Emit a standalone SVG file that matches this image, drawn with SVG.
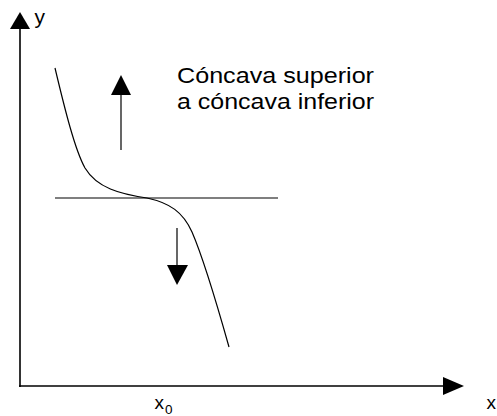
<svg xmlns="http://www.w3.org/2000/svg" width="497" height="416" viewBox="0 0 497 416">
<style>
.ax{stroke:#000;stroke-width:1.6;fill:none}
.ln{stroke:#000;stroke-width:1.2;fill:none}
.hd{fill:#000;stroke:none}
text{font-family:"Liberation Sans",Arial,sans-serif;fill:#000}
</style>
<rect width="497" height="416" fill="#fff"/>
<g id="axes">
<line class="ax" x1="20" y1="387" x2="20" y2="28"/>
<polygon class="hd" points="20,12 10,29 30,29"/>
<line class="ax" x1="19" y1="386" x2="444" y2="386"/>
<polygon class="hd" points="464,386 443,377 443,395"/>
</g>
<g id="curve">
<path class="ln" d="M55,68 C65,110 75,150 85,168 C97,188 120,194 147,198 C170,203 183,212 192,232 C205,262 220,315 229,347"/>
</g>
<g id="tangent">
<line class="ln" x1="55" y1="198" x2="278" y2="198"/>
</g>
<g id="connectors">
<line class="ln" x1="121" y1="150" x2="121" y2="94"/>
<polygon class="hd" points="121,75 111,95 131,95"/>
<line class="ln" x1="177" y1="228" x2="177" y2="266"/>
<polygon class="hd" points="177,285 167,265 188,265"/>
</g>
<g id="labels">
<text x="34.5" y="23.5" font-size="21">y</text>
<text x="486.5" y="408.5" font-size="19">x</text>
<text x="154.5" y="409" font-size="19">x</text>
<text x="165" y="413.5" font-size="13.5">0</text>
<text x="177" y="82.7" font-size="22" textLength="197" lengthAdjust="spacingAndGlyphs">Cóncava superior</text>
<text x="177" y="109.3" font-size="22" textLength="197" lengthAdjust="spacingAndGlyphs">a cóncava inferior</text>
</g>
</svg>
